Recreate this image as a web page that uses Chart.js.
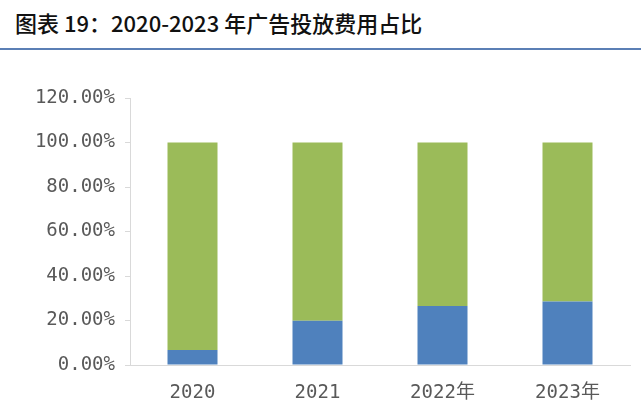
<!DOCTYPE html>
<html><head><meta charset="utf-8">
<script src="https://cdn.jsdelivr.net/npm/chart.js@4/dist/chart.umd.min.js"></script>
<style>
html,body{margin:0;padding:0;background:#fff;width:641px;height:400px;overflow:hidden;}
#title{position:absolute;left:15px;top:6px;font-family:"Noto Sans CJK SC";font-size:22px;font-weight:500;color:#111;white-space:nowrap;}
#rule{position:absolute;left:0;top:48px;width:641px;height:2px;background:#5b7fb5;}
#wrap{position:absolute;left:0;top:60px;width:641px;height:340px;}
</style></head><body>
<div id="title">图表 19：2020-2023 年广告投放费用占比</div>
<div id="rule"></div>
<div id="wrap"><canvas id="c" width="641" height="340"></canvas></div>
<script>
const categories = ["2020", "2021", "2022年", "2023年"];
const blueValues = [6.7, 19.9, 26.5, 28.5];
const greenValues = [93.3, 80.1, 73.5, 71.5];
const tickValues = [0, 20, 40, 60, 80, 100, 120];

const labelFont = {family: '"DejaVu Sans Mono", "Noto Sans CJK SC"', size: 19};

new Chart(document.getElementById('c'), {
  type: 'bar',
  data: {
    labels: categories,
    datasets: [
      {data: blueValues, backgroundColor: '#4f81bd', categoryPercentage: 1, barPercentage: 0.4},
      {data: greenValues, backgroundColor: '#9bbb59', categoryPercentage: 1, barPercentage: 0.4}
    ]
  },
  options: {
    responsive: false,
    animation: false,
    layout: {padding: {top: 38, right: 11, left: 0, bottom: 0}},
    plugins: {legend: {display: false}, tooltip: {enabled: false}},
    scales: {
      x: {
        stacked: true,
        grid: {display: false},
        border: {color: '#d9d9d9'},
        ticks: {color: '#595959', font: labelFont, padding: 9},
        afterFit: s => { s.height = 35; }
      },
      y: {
        stacked: true,
        min: 0, max: 120,
        afterBuildTicks: s => { s.ticks = tickValues.map(v => ({value: v})); },
        grid: {drawOnChartArea: false, drawTicks: true, tickLength: 5, color: '#d9d9d9'},
        border: {color: '#d9d9d9'},
        ticks: {
          color: '#595959', font: labelFont, padding: 10,
          callback: v => v.toFixed(2) + '%'
        },
        afterFit: s => { s.width = 130; }
      }
    }
  }
});
</script>
</body></html>
